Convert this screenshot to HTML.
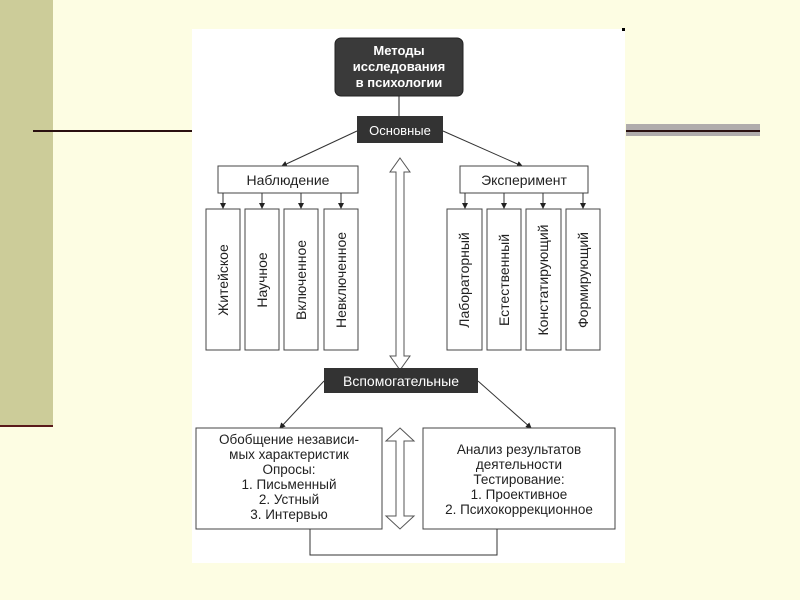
<!DOCTYPE html><html><head><meta charset="utf-8"><style>
html,body{margin:0;padding:0;width:800px;height:600px;overflow:hidden;background:#fdfde3}
svg{display:block;font-family:"Liberation Sans",Arial,sans-serif}
</style></head><body>
<svg width="800" height="600" viewBox="0 0 800 600">
<defs><marker id="a" markerWidth="6" markerHeight="6" refX="5" refY="3" orient="auto"><path d="M0,0 L6,3 L0,6 z" fill="#222"/></marker></defs>
<rect x="0" y="0" width="800" height="600" fill="#fdfde3"/>
<rect x="0" y="0" width="53" height="426" fill="#cccc99"/>
<rect x="0" y="425" width="53" height="2" fill="#5a1a1a"/>
<rect x="33" y="130" width="160" height="2" fill="#2a1010"/>
<rect x="626" y="124" width="134" height="12" fill="#b0acac"/>
<rect x="626" y="130" width="134" height="2" fill="#2a1010"/>
<rect x="192" y="29" width="433" height="534" fill="#fff"/>
<rect x="622" y="28" width="3" height="3" fill="#000"/>
<rect x="335" y="38" width="128" height="58" rx="6" fill="#3a3a3a" stroke="#222"/>
<g fill="#fff" font-weight="bold" font-size="13" text-anchor="middle">
<text x="399" y="55">Методы</text><text x="399" y="71">исследования</text><text x="399" y="87">в психологии</text></g>
<line x1="399" y1="96" x2="399" y2="116" stroke="#222"/>
<rect x="357" y="116" width="86" height="27" fill="#333"/>
<text x="400" y="135" fill="#fff" font-size="13" text-anchor="middle">Основные</text>
<line x1="357" y1="131" x2="282" y2="166" stroke="#333" marker-end="url(#a)"/>
<line x1="443" y1="131" x2="522" y2="166" stroke="#333" marker-end="url(#a)"/>
<rect x="218" y="166" width="140" height="27" fill="#fff" stroke="#444"/>
<text x="288" y="185" font-size="14" text-anchor="middle" fill="#222">Наблюдение</text>
<rect x="460" y="166" width="128" height="27" fill="#fff" stroke="#444"/>
<text x="524" y="185" font-size="14" text-anchor="middle" fill="#222">Эксперимент</text>
<g stroke="#444" fill="#fff">
<rect x="206" y="209" width="34" height="141"/><rect x="245" y="209" width="34" height="141"/><rect x="284" y="209" width="34" height="141"/><rect x="324" y="209" width="34" height="141"/>
<rect x="447" y="209" width="35" height="141"/><rect x="487" y="209" width="34" height="141"/><rect x="526" y="209" width="35" height="141"/><rect x="566" y="209" width="34" height="141"/>
</g>
<g stroke="#333" marker-end="url(#a)">
<line x1="223" y1="193" x2="223" y2="208"/><line x1="262" y1="193" x2="262" y2="208"/><line x1="301" y1="193" x2="301" y2="208"/><line x1="341" y1="193" x2="341" y2="208"/>
<line x1="465" y1="193" x2="465" y2="208"/><line x1="504" y1="193" x2="504" y2="208"/><line x1="543" y1="193" x2="543" y2="208"/><line x1="583" y1="193" x2="583" y2="208"/>
</g>
<g font-size="14" fill="#222" text-anchor="middle">
<text transform="translate(228,280) rotate(-90)">Житейское</text>
<text transform="translate(267,280) rotate(-90)">Научное</text>
<text transform="translate(306,280) rotate(-90)">Включенное</text>
<text transform="translate(346,280) rotate(-90)">Невключенное</text>
<text transform="translate(469,280) rotate(-90)">Лабораторный</text>
<text transform="translate(509,280) rotate(-90)">Естественный</text>
<text transform="translate(548,280) rotate(-90)">Констатирующий</text>
<text transform="translate(588,280) rotate(-90)">Формирующий</text>
</g>
<path d="M400,158 L410,172 L404,172 L404,356 L410,356 L400,370 L390,356 L396,356 L396,172 L390,172 Z" fill="#fff" stroke="#555"/>
<rect x="324" y="368" width="154" height="25" fill="#333"/>
<text x="401" y="386" fill="#fff" font-size="14" text-anchor="middle">Вспомогательные</text>
<line x1="324" y1="381" x2="280" y2="428" stroke="#333" marker-end="url(#a)"/>
<line x1="478" y1="381" x2="531" y2="428" stroke="#333" marker-end="url(#a)"/>
<rect x="196" y="428" width="186" height="101" fill="#fff" stroke="#444"/>
<rect x="423" y="428" width="192" height="101" fill="#fff" stroke="#444"/>
<g font-size="13.5" fill="#222" text-anchor="middle">
<text x="289" y="444">Обобщение независи-</text><text x="289" y="459">мых характеристик</text><text x="289" y="474">Опросы:</text><text x="289" y="489">1. Письменный</text><text x="289" y="504">2. Устный</text><text x="289" y="519">3. Интервью</text>
<text x="519" y="454">Анализ результатов</text><text x="519" y="469">деятельности</text><text x="519" y="484">Тестирование:</text><text x="519" y="499">1. Проективное</text><text x="519" y="514">2. Психокоррекционное</text>
</g>
<path d="M400,428 L414,441 L404,441 L404,516 L414,516 L400,529 L386,516 L396,516 L396,441 L386,441 Z" fill="#fff" stroke="#555"/>
<polyline points="310,529 310,555 497,555 497,529" fill="none" stroke="#333"/>
</svg></body></html>
